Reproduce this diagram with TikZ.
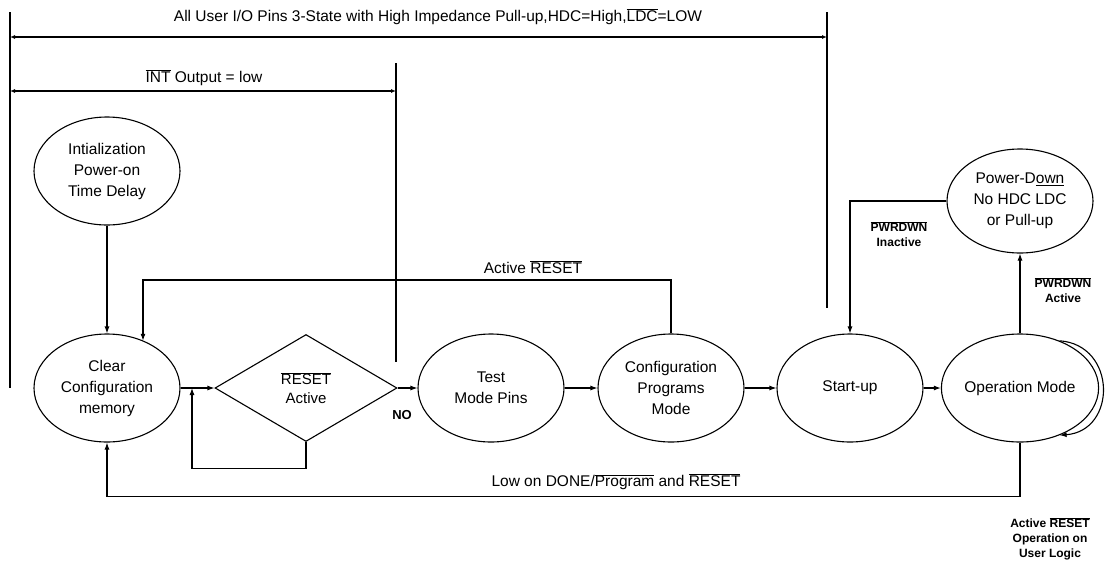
\documentclass[tikz,border=0pt]{standalone}
\usepackage{fontspec}
\setmainfont{Liberation Sans}
\usetikzlibrary{shapes.geometric,arrows.meta}
\newcommand\ovl[1]{\ensuremath{\overline{\hbox{#1}}}}
\begin{document}
\begin{tikzpicture}[x=1pt,y=-1pt,
  every node/.style={font=\fontsize{15.5}{21}\selectfont},
  state/.style={draw,ellipse,line width=1.1pt,minimum width=146pt,minimum height=108pt,inner sep=0pt,align=center},
  small/.style={font=\fontsize{12}{15}\selectfont\bfseries,align=center},
  arr/.style={line width=1.1pt,-{Latex[length=7pt,width=5pt]}},
  rng/.style={line width=1.1pt,{Latex[length=5pt,width=4pt]}-{Latex[length=5pt,width=4pt]}},
  bar/.style={line width=1.4pt}]
\useasboundingbox (0,0) rectangle (1109,563);

% range markers
\coordinate (L0) at (10,12);  \coordinate (L1) at (10,388);
\coordinate (R0) at (827,12); \coordinate (R1) at (827,308);
\coordinate (I0) at (396,63); \coordinate (I1) at (396,362);
\coordinate (topL) at (10,37); \coordinate (topR) at (827,37);
\coordinate (intL) at (10,91); \coordinate (intR) at (396,91);
\draw[bar] (L0) -- (L1);
\draw[bar] (R0) -- (R1);
\draw[bar] (I0) -- (I1);
\draw[rng] (topL) -- (topR);
\draw[rng] (intL) -- (intR);
\node (ttop) at (438,17) {All User I/O Pins 3-State with High Impedance Pull-up,HDC=High,\ovl{LDC}=LOW};
\node (tint) at (204,78) {\ovl{INT} Output = low};

% states
\node[state] (init) at (107,171) {Intialization\\Power-on\\Time Delay};
\node[state] (clear) at (107,388) {Clear\\Configuration\\memory};
\node[draw,diamond,line width=1.1pt,minimum width=182pt,minimum height=107pt,inner sep=0pt,align=center,
      font=\fontsize{15}{19}\selectfont] (dia) at (306,388) {\ovl{RESET}\\Active};
\node[state] (test) at (491,388) {Test\\Mode Pins};
\node[state] (conf) at (671,388) {Configuration\\Programs\\Mode};
\node[state] (start) at (850,388) {Start-up};
\node[state] (oper) at (1020,388) {Operation Mode};
\node[state,minimum height=104pt] (pd) at (1020,201) {Power-D\underline{own}\\No HDC LDC\\or Pull-up};

% connectors
\draw[arr] (init) -- (clear);
\draw[arr] (clear) -- (dia);
\draw[arr] (dia) -- (test);
\draw[arr] (test) -- (conf);
\draw[arr] (conf) -- (start);
\draw[arr] (start) -- (oper);
\node[font=\fontsize{13}{15}\selectfont\bfseries] (tno) at (402,415) {NO};

\coordinate (lp) at (192,388);
\draw[arr] (dia.south) -- ++(0,26) -| (lp);

\coordinate (ar) at (143,280);
\draw[arr] (conf.north) |- (ar) -- (ar |- clear.52);
\node (tact) at (533,267) {Active \ovl{RESET}};

\draw[arr] (pd.west) -| (start.north);
\node[small] (tpi) at (899,234) {\ovl{PWRDWN}\\Inactive};
\draw[arr] (oper) -- (pd);
\node[small] (tpa) at (1063,290) {\ovl{PWRDWN}\\Active};

\draw[arr] (oper.south) -- ++(0,54) -| (clear.south);
\node (tlow) at (616,482) {Low on DONE/\ovl{Program} and \ovl{RESET}};

\draw[arr] (oper.50) .. controls (1117,345) and (1117,431) .. (oper.-50);
\node[small] (tau) at (1050,539) {Active \ovl{RESET}\\Operation on\\User Logic};
\end{tikzpicture}
\end{document}
